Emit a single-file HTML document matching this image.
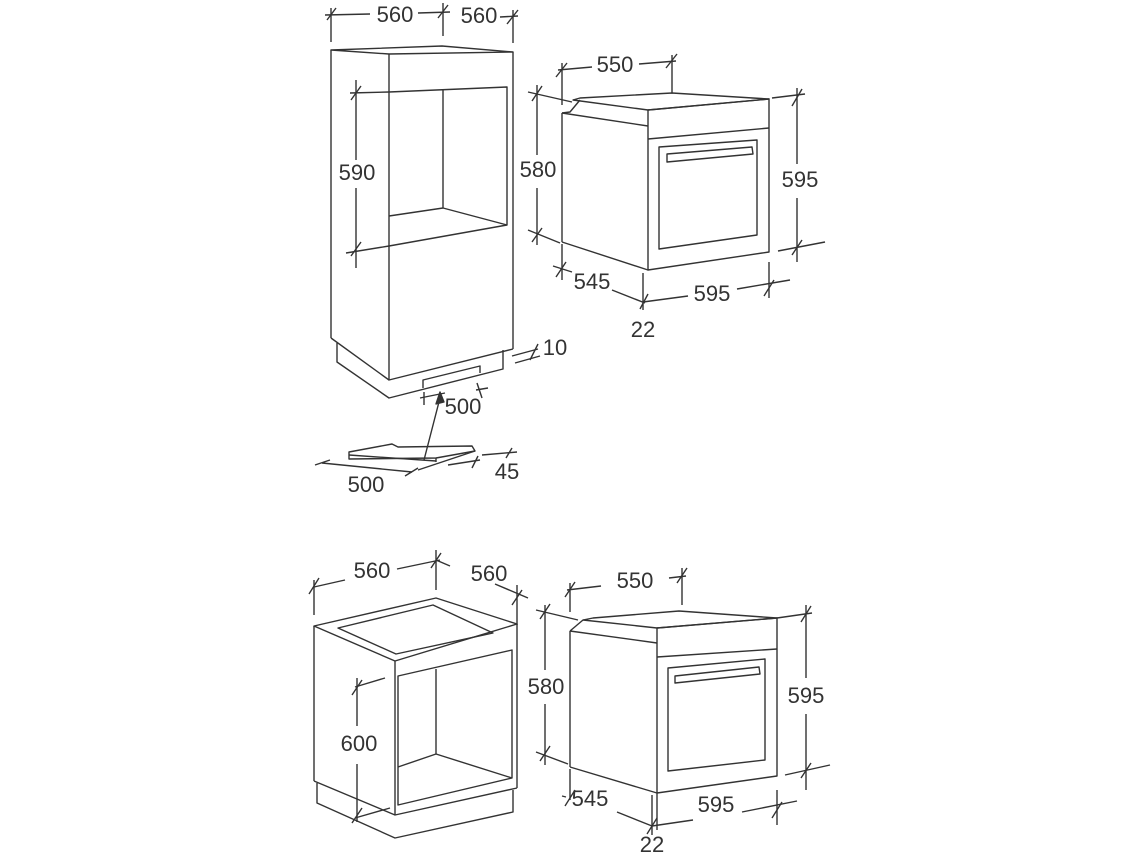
<!DOCTYPE html>
<html><head><meta charset="utf-8"><style>
html,body{margin:0;padding:0;background:#fff;}
svg{display:block}
text{font-family:"Liberation Sans",sans-serif;font-size:22px;fill:#333;text-anchor:middle;dominant-baseline:middle}
</style></head><body>
<svg width="1140" height="855" viewBox="0 0 1140 855" xmlns="http://www.w3.org/2000/svg">
<g fill="none" stroke="#333" stroke-width="1.4" stroke-linejoin="round">
<!-- Tall cabinet -->
<polygon points="331,50 442,46 513,52 389,54"/>
<line x1="331" y1="50" x2="331" y2="338"/>
<line x1="389" y1="54" x2="389" y2="380"/>
<line x1="513" y1="52" x2="513" y2="349"/>
<polyline points="331,338 389,380 513,349"/>
<polyline points="337,343 337,362 389,398 503,369 503,350"/>
<polyline points="423,388 423,380 480,366 480,373"/>
<polyline points="389,92 507,87 507,225 389,246"/>
<line x1="443" y1="90" x2="443" y2="208"/>
<polyline points="389,216 443,208 507,225"/>
<!-- dims tall -->
<line x1="331" y1="8" x2="331" y2="42"/><line x1="443" y1="3" x2="443" y2="36"/><line x1="513" y1="10" x2="513" y2="43"/>
<line x1="325" y1="15" x2="370" y2="14"/><line x1="418" y1="13" x2="450" y2="12"/><line x1="500" y1="17" x2="518" y2="16"/>
<line x1="327" y1="20" x2="336" y2="8"/><line x1="438" y1="18" x2="448" y2="5"/><line x1="507" y1="24" x2="518" y2="10"/>
<line x1="356" y1="80" x2="356" y2="160"/><line x1="356" y1="188" x2="356" y2="268"/>
<line x1="350" y1="93" x2="389" y2="92"/><line x1="346" y1="253" x2="389" y2="246"/>
<line x1="351" y1="100" x2="361" y2="86"/><line x1="351" y1="256" x2="361" y2="242"/>
<line x1="512" y1="356" x2="538" y2="349"/><line x1="515" y1="363" x2="540" y2="356"/><line x1="530" y1="360" x2="538" y2="344"/>
<line x1="420" y1="398" x2="445" y2="393"/><line x1="424" y1="392" x2="424" y2="405"/><line x1="477" y1="383" x2="482" y2="398"/><line x1="476" y1="390" x2="488" y2="388"/>
<line x1="424" y1="460" x2="440" y2="398"/>
<polygon points="440,392 436,404 444,402" fill="#333"/>
<polygon points="349,452 392,444 398,447 472,446 475,451 436,458 349,459"/>
<line x1="349" y1="455" x2="436" y2="461"/><line x1="436" y1="458" x2="436" y2="462"/><line x1="475" y1="451" x2="436" y2="464"/>
<line x1="322" y1="463" x2="412" y2="472"/><line x1="315" y1="465" x2="330" y2="460"/><line x1="405" y1="476" x2="418" y2="468"/>
<line x1="418" y1="470" x2="436" y2="464"/>
<line x1="448" y1="465" x2="480" y2="460"/><line x1="482" y1="455" x2="517" y2="452"/><line x1="472" y1="468" x2="478" y2="456"/><line x1="506" y1="458" x2="512" y2="448"/>
<!-- Oven top -->
<polygon points="573,100 580,98 672,93 769,99 648,110"/>
<polyline points="562,113 570,112 580,100"/>
<line x1="562" y1="113" x2="648" y2="126"/>
<polygon points="648,110 769,99 769,252 648,270"/>
<line x1="648" y1="139" x2="769" y2="128"/>
<line x1="562" y1="113" x2="562" y2="242"/><line x1="562" y1="242" x2="648" y2="270"/>
<polygon points="659,147 757,140 757,235 659,249"/>
<path d="M667,154 L752,147 L753,154 L667,162 Z"/>
<line x1="562" y1="63" x2="562" y2="105"/><line x1="672" y1="55" x2="672" y2="93"/>
<line x1="558" y1="70" x2="592" y2="67"/><line x1="639" y1="64" x2="676" y2="61"/>
<line x1="556" y1="77" x2="567" y2="63"/><line x1="666" y1="68" x2="677" y2="54"/>
<line x1="537" y1="85" x2="537" y2="155"/><line x1="537" y1="188" x2="537" y2="245"/>
<line x1="528" y1="92" x2="572" y2="102"/><line x1="528" y1="230" x2="560" y2="243"/>
<line x1="532" y1="101" x2="542" y2="86"/><line x1="532" y1="242" x2="542" y2="228"/>
<line x1="797" y1="88" x2="797" y2="164"/><line x1="797" y1="198" x2="797" y2="262"/>
<line x1="772" y1="98" x2="805" y2="94"/><line x1="778" y1="251" x2="825" y2="242"/>
<line x1="792" y1="106" x2="802" y2="89"/><line x1="792" y1="255" x2="802" y2="240"/>
<line x1="562" y1="244" x2="562" y2="280"/><line x1="553" y1="266" x2="572" y2="272"/><line x1="556" y1="277" x2="566" y2="262"/>
<line x1="612" y1="290" x2="645" y2="303"/><line x1="640" y1="309" x2="648" y2="294"/>
<line x1="643" y1="273" x2="643" y2="310"/>
<line x1="643" y1="302" x2="688" y2="296"/><line x1="737" y1="289" x2="790" y2="280"/>
<line x1="769" y1="262" x2="769" y2="298"/><line x1="764" y1="296" x2="774" y2="280"/>
<!-- Bottom cabinet -->
<polygon points="314,626 436,598 517,624 395,661"/>
<polygon points="338,628 433,605 493,633 396,654"/>
<line x1="314" y1="626" x2="314" y2="781"/><line x1="395" y1="661" x2="395" y2="815"/><line x1="517" y1="624" x2="517" y2="788"/>
<polyline points="314,781 395,815 517,788"/>
<polyline points="317,783 317,803 395,838 513,812 513,790"/>
<polygon points="398,676 512,650 512,778 398,805"/>
<line x1="436" y1="669" x2="436" y2="754"/>
<polyline points="398,767 436,754 512,778"/>
<line x1="314" y1="580" x2="314" y2="615"/><line x1="436" y1="550" x2="436" y2="590"/><line x1="517" y1="585" x2="517" y2="625"/>
<line x1="314" y1="587" x2="345" y2="580"/><line x1="397" y1="569" x2="440" y2="560"/>
<line x1="436" y1="560" x2="450" y2="566"/><line x1="495" y1="584" x2="528" y2="598"/>
<line x1="309" y1="594" x2="319" y2="578"/><line x1="431" y1="568" x2="441" y2="553"/><line x1="512" y1="605" x2="522" y2="590"/>
<line x1="357" y1="678" x2="357" y2="726"/><line x1="357" y1="764" x2="357" y2="822"/>
<line x1="355" y1="687" x2="385" y2="678"/><line x1="355" y1="818" x2="390" y2="808"/>
<line x1="352" y1="695" x2="362" y2="680"/><line x1="352" y1="823" x2="362" y2="808"/>
<!-- Oven bottom -->
<polygon points="583,620 593,618 679,611 777,618 657,628"/>
<polyline points="570,631 583,620"/>
<line x1="570" y1="631" x2="657" y2="643"/>
<polygon points="657,628 777,618 777,776 657,793"/>
<line x1="657" y1="657" x2="777" y2="649"/>
<line x1="570" y1="631" x2="570" y2="767"/><line x1="570" y1="767" x2="657" y2="793"/>
<polygon points="668,668 765,659 765,760 668,771"/>
<path d="M675,676 L759,667 L760,674 L675,683 Z"/>
<line x1="570" y1="583" x2="570" y2="612"/><line x1="682" y1="568" x2="682" y2="605"/>
<line x1="567" y1="590" x2="601" y2="586"/><line x1="669" y1="578" x2="686" y2="576"/>
<line x1="565" y1="597" x2="575" y2="582"/><line x1="677" y1="583" x2="687" y2="568"/>
<line x1="545" y1="605" x2="545" y2="670"/><line x1="545" y1="704" x2="545" y2="765"/>
<line x1="536" y1="610" x2="578" y2="620"/><line x1="536" y1="752" x2="568" y2="764"/>
<line x1="540" y1="619" x2="550" y2="604"/><line x1="540" y1="761" x2="550" y2="746"/>
<line x1="806" y1="605" x2="806" y2="678"/><line x1="806" y1="714" x2="806" y2="790"/>
<line x1="777" y1="618" x2="812" y2="613"/><line x1="785" y1="775" x2="830" y2="765"/>
<line x1="801" y1="622" x2="811" y2="606"/><line x1="801" y1="778" x2="811" y2="763"/>
<line x1="570" y1="769" x2="570" y2="800"/><line x1="562" y1="796" x2="566" y2="797"/><line x1="565" y1="806" x2="575" y2="790"/>
<line x1="617" y1="812" x2="652" y2="826"/><line x1="647" y1="834" x2="657" y2="818"/>
<line x1="652" y1="795" x2="652" y2="835"/><line x1="657" y1="793" x2="657" y2="830"/>
<line x1="652" y1="826" x2="693" y2="820"/><line x1="742" y1="812" x2="797" y2="801"/>
<line x1="777" y1="790" x2="777" y2="825"/><line x1="772" y1="818" x2="782" y2="802"/>
</g>
<text x="395" y="16">560</text><text x="479" y="17">560</text>
<text x="357" y="174">590</text><text x="555" y="349">10</text>
<text x="463" y="408">500</text><text x="366" y="486">500</text><text x="507" y="473">45</text>
<text x="615" y="66">550</text><text x="538" y="171">580</text><text x="800" y="181">595</text>
<text x="592" y="283">545</text><text x="712" y="295">595</text><text x="643" y="331">22</text>
<text x="372" y="572">560</text><text x="489" y="575">560</text><text x="359" y="745">600</text>
<text x="635" y="582">550</text><text x="546" y="688">580</text><text x="806" y="697">595</text>
<text x="590" y="800">545</text><text x="716" y="806">595</text><text x="652" y="846">22</text>
</svg>
</body></html>
